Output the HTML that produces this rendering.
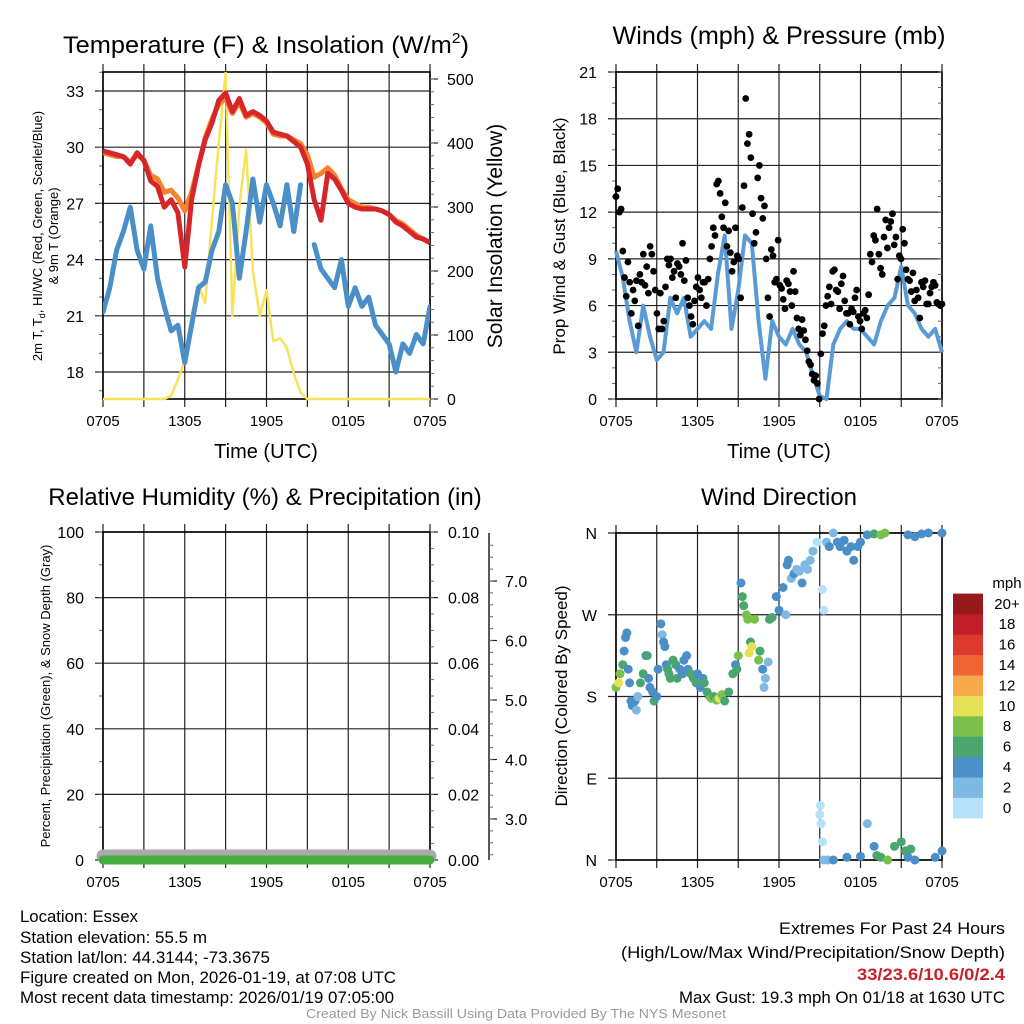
<!DOCTYPE html>
<html><head><meta charset="utf-8"><title>Mesonet Meteogram</title>
<style>
html,body{margin:0;padding:0;background:#fff;}
svg{display:block;font-family:"Liberation Sans",Arial,sans-serif;}
</style></head>
<body>
<svg id="chart" width="1024" height="1024" viewBox="0 0 1024 1024" xmlns="http://www.w3.org/2000/svg">
<rect width="1024" height="1024" fill="#fff"/>
<g id="g-temp"></g>
<g id="g-wind"></g>
<g id="g-rh"></g>
<g id="g-dir"></g>

<text x="266" y="53" font-size="24" text-anchor="middle" textLength="406" lengthAdjust="spacingAndGlyphs">Temperature (F) &amp; Insolation (W/m<tspan font-size="15" dy="-10">2</tspan><tspan dy="10">)</tspan></text>
<text x="779" y="44" font-size="25" text-anchor="middle" textLength="333" lengthAdjust="spacingAndGlyphs">Winds (mph) &amp; Pressure (mb)</text>
<text x="265" y="505" font-size="24" text-anchor="middle">Relative Humidity (%) &amp; Precipitation (in)</text>
<text x="779" y="505" font-size="24" text-anchor="middle">Wind Direction</text>

<g font-size="17">
<text x="20" y="922" textLength="118" lengthAdjust="spacingAndGlyphs">Location: Essex</text>
<text x="20" y="943" textLength="187" lengthAdjust="spacingAndGlyphs">Station elevation: 55.5 m</text>
<text x="20" y="963" textLength="250" lengthAdjust="spacingAndGlyphs">Station lat/lon: 44.3144; -73.3675</text>
<text x="20" y="983" textLength="376" lengthAdjust="spacingAndGlyphs">Figure created on Mon, 2026-01-19, at 07:08 UTC</text>
<text x="20" y="1003" textLength="374" lengthAdjust="spacingAndGlyphs">Most recent data timestamp: 2026/01/19 07:05:00</text>
</g>
<g font-size="17" text-anchor="end">
<text x="1005" y="934" textLength="226" lengthAdjust="spacingAndGlyphs">Extremes For Past 24 Hours</text>
<text x="1005" y="958" textLength="384" lengthAdjust="spacingAndGlyphs">(High/Low/Max Wind/Precipitation/Snow Depth)</text>
<text x="1005" y="980" fill="#c8202a" font-weight="bold" textLength="148" lengthAdjust="spacingAndGlyphs">33/23.6/10.6/0/2.4</text>
<text x="1005" y="1003" textLength="326" lengthAdjust="spacingAndGlyphs">Max Gust: 19.3 mph On 01/18 at 1630 UTC</text>
</g>
<text x="516" y="1018" font-size="13" fill="#999" text-anchor="middle" textLength="420" lengthAdjust="spacingAndGlyphs">Created By Nick Bassill Using Data Provided By The NYS Mesonet</text>
</svg>
<script>
const xTickLabels = ["0705","","1305","","1905","","0105","","0705"];
const tempTicks = [18,21,24,27,30,33];
const solarTicks = [0,100,200,300,400,500];
const windTicks = [0,3,6,9,12,15,18,21];
const rhTicks = [0,20,40,60,80,100];
const precipTicks = ["0.00","0.02","0.04","0.06","0.08","0.10"];
const snowTicks = ["3.0","4.0","5.0","6.0","7.0"];
const dirTicks = ["N","E","S","W","N"];
const tempRed = [29.8,29.7,29.6,29.5,29.1,29.7,29.3,28.2,27.9,26.8,27.2,26.5,23.6,27.2,29.0,30.4,31.3,32.5,32.9,31.9,32.6,31.7,31.9,31.7,31.4,30.8,30.7,30.6,30.3,30.0,29.1,27.2,26.1,28.6,28.3,27.7,27.0,26.8,26.7,26.7,26.7,26.6,26.4,26.0,25.8,25.5,25.2,25.1,24.9];
const temp9m = [29.7,29.6,29.5,29.5,29.2,29.6,29.3,28.5,28.3,27.6,27.7,27.3,26.6,27.6,29.0,30.5,31.5,32.3,32.6,31.8,32.4,31.6,31.8,31.6,31.3,30.7,30.6,30.6,30.4,30.2,29.6,28.4,28.6,28.9,28.5,27.8,27.2,27.0,26.8,26.8,26.7,26.6,26.4,26.1,25.9,25.6,25.3,25.1,24.9];
const dewPoint = [21.2,22.5,24.5,25.5,26.8,24.5,23.5,25.8,23.0,21.5,20.2,20.5,18.5,20.5,22.5,22.8,24.5,25.5,28.0,27.0,23.0,25.5,28.3,26.0,28.0,27.0,25.8,28.0,25.5,28.0,null,24.8,23.5,23.0,22.5,24.0,21.5,22.5,21.5,22.0,20.5,20.0,19.5,18.0,19.5,19.0,20.0,19.5,21.5];
const solar = [0,0,0,0,0,0,0,0,0,0,5,30,60,130,180,150,280,400,510,130,300,390,200,130,170,90,95,80,40,10,0,0,0,0,0,0,0,0,0,0,0,0,0,0,0,0,0,0,0];
const windSpeed = [9.5,7.8,5,3,6,4,2.5,3,6.5,5.5,6.5,4,4.5,5,4.5,8,10.5,4.5,7,10.5,10,5,1.3,5,4,3.5,4.5,3.5,3,1.5,0.2,0,3.5,4.5,5,4.5,4.5,4,3.5,5,6,6.5,8.5,6,5.5,4.5,4,4.5,3];
const windGust = [13,13.5,12,12.2,9.5,7.8,6.6,8.8,7.5,5.5,7,6.3,7.6,4.7,8,7.5,9.3,7.3,8.5,6.8,9.8,9.3,8.2,7,5.5,4.5,6.8,4.5,5,7.2,9,8.6,9,7.8,8.2,6.5,8.7,8.5,8,10,7.6,8.9,6.5,6,5.3,4.8,6.3,7.2,7.8,7,6.5,7.5,7.5,6,7.7,9,9.8,11,10.5,13.8,14,13.2,11.7,11,12.6,9.8,10.8,9.4,8.2,8.8,11,9.2,9,6.5,12.3,13.7,19.3,16.4,17,15.5,11.9,10,10.7,14.2,15,12.9,11.6,12.4,9,6.5,5.3,9.6,9.2,7.5,7.7,10.2,7.3,7.1,6.4,5.8,7.6,7.4,6.9,6.0,8.2,6.9,5.2,4.5,4.1,5.1,4.4,3.8,3.1,2.4,2.2,1.6,1.2,1.5,1.0,0,2.9,4.2,4.7,6,6.6,7.2,6.1,8.2,8.3,7,6.9,5.8,7.4,7.9,6.3,5.5,5.5,4.8,5.8,5.6,6.5,7,5.3,5,4.5,5.5,5.7,5.2,6.7,9.3,8.8,10.5,10.2,12.2,9.3,8.4,8,10.4,11.5,9.7,11,11.4,11.9,9.9,10.4,7.7,9.2,9,10.9,10,8.3,7.7,7.6,6.9,8.1,6.3,7,6.5,5.2,7.5,7.2,7.6,6.1,6.1,6.8,7.2,7.5,7.3,6.2,6.1,6,6.1];
const dirTime = [0,0.2,0.3,0.5,0.6,0.7,0.8,0.9,1,1.1,1.2,1.4,1.5,1.6,1.8,2,2.2,2.3,2.4,2.5,2.7,2.8,3,3.1,3.3,3.4,3.5,3.6,3.7,3.8,3.9,4,4.2,4.4,4.5,4.7,4.9,5,5.2,5.3,5.5,5.7,5.9,6,6.2,6.4,6.5,6.7,6.9,7,7.2,7.4,7.6,7.8,8,8.3,8.6,8.8,8.9,9,9.2,9.3,9.4,9.6,9.7,9.8,9.9,10,10.2,10.5,10.6,10.8,10.9,11,11.2,11.3,11.5,11.8,12,12.3,12.6,12.7,12.5,12.9,13.1,13.3,13.5,13.7,13.9,14.1,14.3,14.5,14.8,15.2,15.3,15.5,15.7,16,16.3,16.5,16.8,17,17.3,17.5,17.8,18,18.5,19,19.5,19.8,21.5,22,22.5,23,24,15,15.05,15.1,15.2,15.3,15.6,16,17,18,18.5,19,19.2,19.5,20,20.5,21,21.3,21.5,21.7,22,23.5,24];
const dirDeg = [190,195,205,215,230,245,250,210,195,175,170,175,165,180,195,205,225,225,200,190,185,175,180,210,260,248,240,235,215,210,205,200,220,215,200,210,205,220,225,210,205,200,195,205,190,200,195,185,180,178,180,176,178,182,175,185,205,215,210,225,305,290,280,270,265,228,240,235,265,220,230,210,190,200,218,265,267,290,275,300,325,330,270,310,315,320,318,305,325,320,330,340,350,298,275,350,345,360,350,345,352,340,345,330,345,350,358,359,358,360,358,356,359,360,360,50,60,40,20,0,0,0,3,4,40,15,5,3,0,15,20,10,3,12,0,3,10];
const dirSpeed = [9,10,8,7,4,4,4,4,4,4,4,4,2,2,6,6,4,6,4,4,4,6,4,4,4,2,4,4,4,6,6,6,6,6,6,4,4,4,4,4,6,6,6,4,4,4,6,6,6,8,6,8,10,8,6,6,6,4,6,8,4,6,6,8,8,10,6,10,8,8,6,4,2,2,2,6,6,4,4,4,4,4,2,2,4,2,2,4,2,2,2,2,0,0,0,2,4,2,4,4,4,4,4,4,4,4,4,6,8,8,4,4,4,4,4,0,0,0,0,2,2,4,4,4,2,4,6,6,8,6,6,6,4,6,4,4,4];
const cbLabels = ["0","2","4","6","8","10","12","14","16","18","20+"];
const cbColors = ["#b6e2f8","#7eb9e4","#4a8fc7","#4aa56e","#7bc04a","#e6e055","#f5a94a","#ef6430","#dc3a2c","#c11f27","#961a1c"];

const NS="http://www.w3.org/2000/svg";
function mk(tag,attrs,parent){const e=document.createElementNS(NS,tag);for(const k in attrs)e.setAttribute(k,attrs[k]);parent.appendChild(e);return e;}
const X0=103,X1=430,RX0=616,RX1=942;
function xs(t,a,b){return a+(b-a)*t/24;}
function linScale(d0,d1,r0,r1){return v=>r0+(r1-r0)*(v-d0)/(d1-d0);}

function frame(g,x0,x1,y0,y1,yTickVals,yScale,yLabels,minorStep,yMin,yMax){
  for(let i=0;i<9;i++){
    const x=x0+(x1-x0)*i/8;
    const l=mk('line',{x1:x,x2:x,y1:y0-8,y2:y1+8,stroke:'#222','stroke-width':1.2},g);
    
    
    if(xTickLabels[i]){
      const t=mk('text',{x:x,y:y1+27,'font-size':15,'text-anchor':'middle'},g);
      t.textContent=xTickLabels[i];
      
      
    }
  }
  yTickVals.forEach((v,i)=>{
    const y=yScale(v);
    const l=mk('line',{x1:x0-8,x2:x1,y1:y,y2:y,stroke:'#222','stroke-width':1.2},g);
    
    
    const t=mk('text',{x:x0-19,y:y+6,'font-size':16,'text-anchor':'end'},g);
    t.textContent=yLabels[i];
    
    
  });
  for(let v=yMin;v<=yMax+1e-9;v+=minorStep){
    const y=yScale(v);
    const l=mk('line',{x1:x0-4,x2:x0,y1:y,y2:y,stroke:'#666','stroke-width':1},g);
    
    
  }
  const r=mk('rect',{x:x0,y:y0,width:x1-x0,height:y1-y0,fill:'none',stroke:'#000','stroke-width':1.6},g);
  
  
}
function pathFrom(vals,xf,yf){
  let d='',pen=false;
  vals.forEach((v,i)=>{if(v===null){pen=false;return;}d+=(pen?'L':'M')+xf(i).toFixed(1)+' '+yf(v).toFixed(1)+' ';pen=true;});
  return d;
}

(function(){
  const g=document.getElementById('g-temp');
  const y0=72,y1=399;
  const yT=linScale(18,33,372,91);
  const yS=linScale(0,500,399,79);
  frame(g,X0,X1,y0,y1,tempTicks,yT,tempTicks.map(String),1,17,34);
  solarTicks.forEach(v=>{
    const y=yS(v);
    const l=mk('line',{x1:X1,x2:X1+8,y1:y,y2:y,stroke:'#222','stroke-width':1.2},g);
    
    
    const t=mk('text',{x:X1+17,y:y+6,'font-size':16},g);
    t.textContent=String(v);
    
    
  });
  for(let v=0;v<=500;v+=20){const y=yS(v);const l=mk('line',{x1:X1,x2:X1+4,y1:y,y2:y,stroke:'#666'},g);}
  const xf=i=>xs(i*0.5,X0,X1);
  const clip=mk('clipPath',{id:'clipT'},g);mk('rect',{x:X0,y:y0,width:X1-X0,height:y1-y0+3},clip);
  const lg=mk('g',{'clip-path':'url(#clipT)'},g);
  let p;
  p=mk('path',{d:pathFrom(solar,xf,yS),fill:'none',stroke:'#f6e35a','stroke-width':2.5,'stroke-linejoin':'round'},lg);
  
  p=mk('path',{d:pathFrom(dewPoint,xf,yT),fill:'none',stroke:'#4a8fc7','stroke-width':5,'stroke-linejoin':'round','stroke-linecap':'round'},lg);
  
  p=mk('path',{d:pathFrom(temp9m,xf,yT),fill:'none',stroke:'#f5822f','stroke-width':5,'stroke-linejoin':'round'},lg);
  
  p=mk('path',{d:pathFrom(tempRed,xf,yT),fill:'none',stroke:'#d7262b','stroke-width':5,'stroke-linejoin':'round'},lg);
  
  let t=mk('text',{x:266,y:458,'font-size':20,'text-anchor':'middle'},g);t.textContent='Time (UTC)';
  
  t=mk('text',{transform:'translate(42,236) rotate(-90)','font-size':13,'text-anchor':'middle'},g);
  t.innerHTML='2m T, T<tspan font-size="9" dy="3">d</tspan><tspan dy="-3">, HI/WC (Red, Green, Scarlet/Blue)</tspan>';
  
  t=mk('text',{transform:'translate(58,236) rotate(-90)','font-size':13,'text-anchor':'middle'},g);t.textContent='& 9m T (Orange)';
  
  t=mk('text',{transform:'translate(502,236) rotate(-90)','font-size':21,'text-anchor':'middle'},g);t.textContent='Solar Insolation (Yellow)';
  
})();

(function(){
  const g=document.getElementById('g-wind');
  const y0=72,y1=399;
  const yW=linScale(0,21,399,72);
  frame(g,RX0,RX1,y0,y1,windTicks,yW,windTicks.map(String),1,0,21);
  for(let v=0;v<=21;v+=1){const y=yW(v);const l=mk('line',{x1:RX1-4,x2:RX1,y1:y,y2:y,stroke:'#666'},g);}
  const xf=i=>xs(i*0.5,RX0,RX1);
  let p=mk('path',{d:pathFrom(windSpeed,xf,yW),fill:'none',stroke:'#5b9bd5','stroke-width':4,'stroke-linejoin':'round'},g);
  
  const n=windGust.length;
  windGust.forEach((v,i)=>{
    const c=mk('circle',{cx:xs(i*24/(n-1),RX0,RX1),cy:yW(v),r:3.4,fill:'#000'},g);
    
    
  });
  let t=mk('text',{x:779,y:458,'font-size':20,'text-anchor':'middle'},g);t.textContent='Time (UTC)';
  
  t=mk('text',{transform:'translate(565,236) rotate(-90)','font-size':17,'text-anchor':'middle'},g);t.textContent='Prop Wind & Gust (Blue, Black)';
  
})();

(function(){
  const g=document.getElementById('g-rh');
  const y0=532,y1=860;
  const yR=linScale(0,100,860,532);
  frame(g,X0,X1,y0,y1,rhTicks,yR,rhTicks.map(String),10,0,100);
  rhTicks.forEach((v,i)=>{
    const y=yR(v);
    const l=mk('line',{x1:X1,x2:X1+8,y1:y,y2:y,stroke:'#222','stroke-width':1.2},g);
    
    const t=mk('text',{x:X1+18,y:y+6,'font-size':16},g);t.textContent=precipTicks[i];
    
  });
  for(let v=0;v<=100;v+=5){const y=yR(v);const l=mk('line',{x1:X1,x2:X1+4,y1:y,y2:y,stroke:'#666'},g);}
  const ySn=linScale(3,7,819,581);
  let l=mk('line',{x1:489,x2:489,y1:533,y2:860,stroke:'#222','stroke-width':1.5},g);
  
  snowTicks.forEach(s=>{
    const y=ySn(parseFloat(s));
    const k=mk('line',{x1:489,x2:497,y1:y,y2:y,stroke:'#222','stroke-width':1.2},g);
    
    const t=mk('text',{x:505,y:y+6,'font-size':16},g);t.textContent=s;
    
  });
  for(let v=2.4;v<=7.8;v+=0.2){const y=ySn(v);const k=mk('line',{x1:489,x2:493,y1:y,y2:y,stroke:'#666'},g);}
  let p=mk('line',{x1:X0,x2:X1,y1:856,y2:856,stroke:'#aaa','stroke-width':13,'stroke-linecap':'round'},g);
  
  p=mk('line',{x1:X0,x2:X1,y1:860,y2:860,stroke:'#43ad3f','stroke-width':9,'stroke-linecap':'round'},g);
  
  let t=mk('text',{transform:'translate(50,696) rotate(-90)','font-size':13,'text-anchor':'middle'},g);t.textContent='Percent, Precipitation (Green), & Snow Depth (Gray)';
  
})();

(function(){
  const g=document.getElementById('g-dir');
  const y0=533,y1=860;
  const yD=linScale(0,360,860,533);
  frame(g,RX0,RX1,y0,y1,[0,90,180,270,360],yD,dirTicks,360,0,0);
  function col(s){let k=Math.floor(s/2);if(k>10)k=10;return cbColors[k];}
  dirTime.forEach((tm,i)=>{
    const c=mk('circle',{cx:xs(tm,RX0,RX1),cy:yD(dirDeg[i]),r:4.5,fill:col(dirSpeed[i])},g);
    
    
  });
  let t=mk('text',{transform:'translate(567,696) rotate(-90)','font-size':17,'text-anchor':'middle'},g);t.textContent='Direction (Colored By Speed)';
  
  t=mk('text',{x:1007,y:588,'font-size':15,'text-anchor':'middle'},g);t.textContent='mph';
  
  const h=20.4;
  cbColors.forEach((c,i)=>{
    const y=818-(i+1)*h;
    const r=mk('rect',{x:953,y:y,width:30,height:h+0.3,fill:c},g);
    
    const tt=mk('text',{x:1007,y:y+h/2+5,'font-size':15,'text-anchor':'middle'},g);tt.textContent=cbLabels[i];
    
  });
})();
</script>
</body></html>
